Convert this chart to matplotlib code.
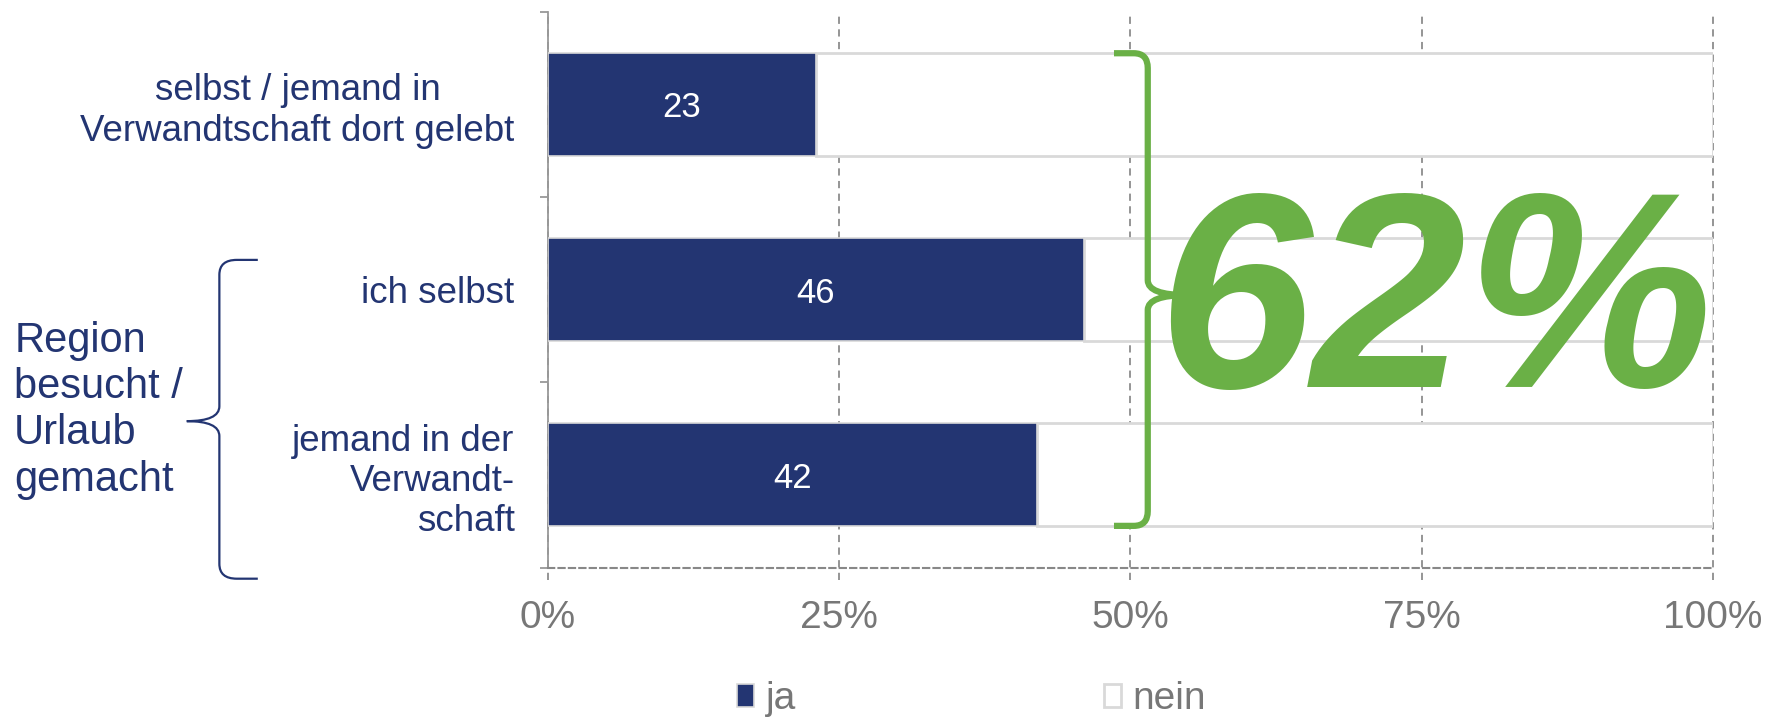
import matplotlib
matplotlib.use("Agg")
import matplotlib.pyplot as plt
from matplotlib.path import Path
from matplotlib.patches import PathPatch
import numpy as np

# ---- data ----
categories = ["selbst / jemand in\nVerwandtschaft dort gelebt",
              "ich selbst",
              "jemand in der\nVerwandt-\nschaft"]
ja = [23, 46, 42]
nein = [100 - v for v in ja]
xticks = [0, 25, 50, 75, 100]
xticklabels = ["0%", "25%", "50%", "75%", "100%"]
series_names = ["ja", "nein"]
group_label = "Region\nbesucht /\nUrlaub\ngemacht"
big_label = "62%"

NAVY = "#233572"
GREEN = "#6ab046"
GRAY = "#777777"
LIGHT = "#d9d9d9"
NARROW = ["Liberation Sans Narrow", "Liberation Sans", "DejaVu Sans"]
REG = ["Liberation Sans", "DejaVu Sans"]

fig = plt.figure(figsize=(17.73, 7.21), dpi=100)
ax = fig.add_axes([0.309, 0.2128, 0.657, 0.7712])

y = np.arange(len(categories))
h = 0.555
b1 = ax.barh(y, ja, height=h, color=NAVY, edgecolor=LIGHT, linewidth=1.2, zorder=3, label=series_names[0])
b2 = ax.barh(y, nein, left=ja, height=h, color="white", edgecolor=LIGHT, linewidth=2.0, zorder=2, label=series_names[1])

for yi, v in zip(y, ja):
    ax.text(v / 2, yi, str(v), ha="center", va="center_baseline", color="white",
            fontsize=25, family=NARROW, zorder=4)

ax.set_xlim(0, 100)
ax.set_ylim(2.5, -0.5)

# gridlines (dashed), extending below axis as ticks
ax.vlines(xticks, -0.022, 1, transform=ax.get_xaxis_transform(), colors="#8c8c8c",
          linestyles=(0, (4, 3)), linewidth=1.3, zorder=0, clip_on=False)

ax.set_xticks(xticks)
ax.set_xticklabels(xticklabels, fontsize=28, family=NARROW, color=GRAY)
ax.tick_params(axis="x", length=0, pad=23)

ax.set_yticks(y)
ax.set_yticklabels(categories, fontsize=26.5, family=REG, color=NAVY, linespacing=1.2)
ax.get_yticklabels()[0].set_multialignment("center")
ax.tick_params(axis="y", which="major", length=0, pad=24)
ax.set_yticks([-0.5, 0.5, 1.5, 2.5], minor=True)
ax.tick_params(axis="y", which="minor", length=6, width=1.3, color="#999999", direction="out")

for s in ["top", "right"]:
    ax.spines[s].set_visible(False)
ax.spines["left"].set_color("#999999")
ax.spines["left"].set_linewidth(1.3)
ax.spines["bottom"].set_color("#888888")
ax.spines["bottom"].set_linewidth(1.5)
ax.spines["bottom"].set_linestyle((0, (3, 2)))


def brace(xv, xh, xt, y0, y1, ym, rx, ry):
    sx = np.sign(xt - xv)
    verts = [(xh, y0), (xv - sx * rx, y0), (xv, y0), (xv, y0 + ry),
             (xv, ym - ry), (xv, ym), (xt, ym),
             (xv, ym), (xv, ym + ry),
             (xv, y1 - ry), (xv, y1), (xv - sx * rx, y1), (xh, y1)]
    codes = [Path.MOVETO, Path.LINETO, Path.CURVE3, Path.CURVE3,
             Path.LINETO, Path.CURVE3, Path.CURVE3,
             Path.CURVE3, Path.CURVE3,
             Path.LINETO, Path.CURVE3, Path.CURVE3, Path.LINETO]
    return Path(verts, codes)


# green brace to the right of bars
ax.add_patch(PathPatch(brace(51.5, 48.6, 54.9, -0.275, 2.275, 1.03, 1.2, 0.08),
                       fill=False, edgecolor=GREEN, linewidth=4.5, capstyle="butt",
                       joinstyle="round", zorder=5, clip_on=False))
ax.text(76.2, 1.524, big_label, ha="center", va="baseline", color=GREEN,
        fontsize=200, fontweight="bold", fontstyle="italic", family=REG, zorder=6)

# navy brace on the left
ax.add_patch(PathPatch(brace(-28.2, -24.9, -31.0, 0.84, 2.56, 1.71, 1.5, 0.08),
                       fill=False, edgecolor=NAVY, linewidth=1.6, zorder=5, clip_on=False))
fig.text(0.008, 0.431, group_label, ha="left", va="center", color=NAVY,
         fontsize=30, family=REG, linespacing=1.2)

leg = fig.legend(handles=[b1, b2], labels=series_names, loc="center",
                 bbox_to_anchor=(0.548, 0.030), ncol=2, frameon=False,
                 handlelength=0.44, handleheight=0.52, handletextpad=0.3,
                 columnspacing=7.9, borderpad=0.1,
                 prop={"family": NARROW, "size": 28})
for t in leg.get_texts():
    t.set_color(GRAY)
for p in leg.get_patches():
    p.set_edgecolor(LIGHT)

fig.savefig("out.png", dpi=100)
